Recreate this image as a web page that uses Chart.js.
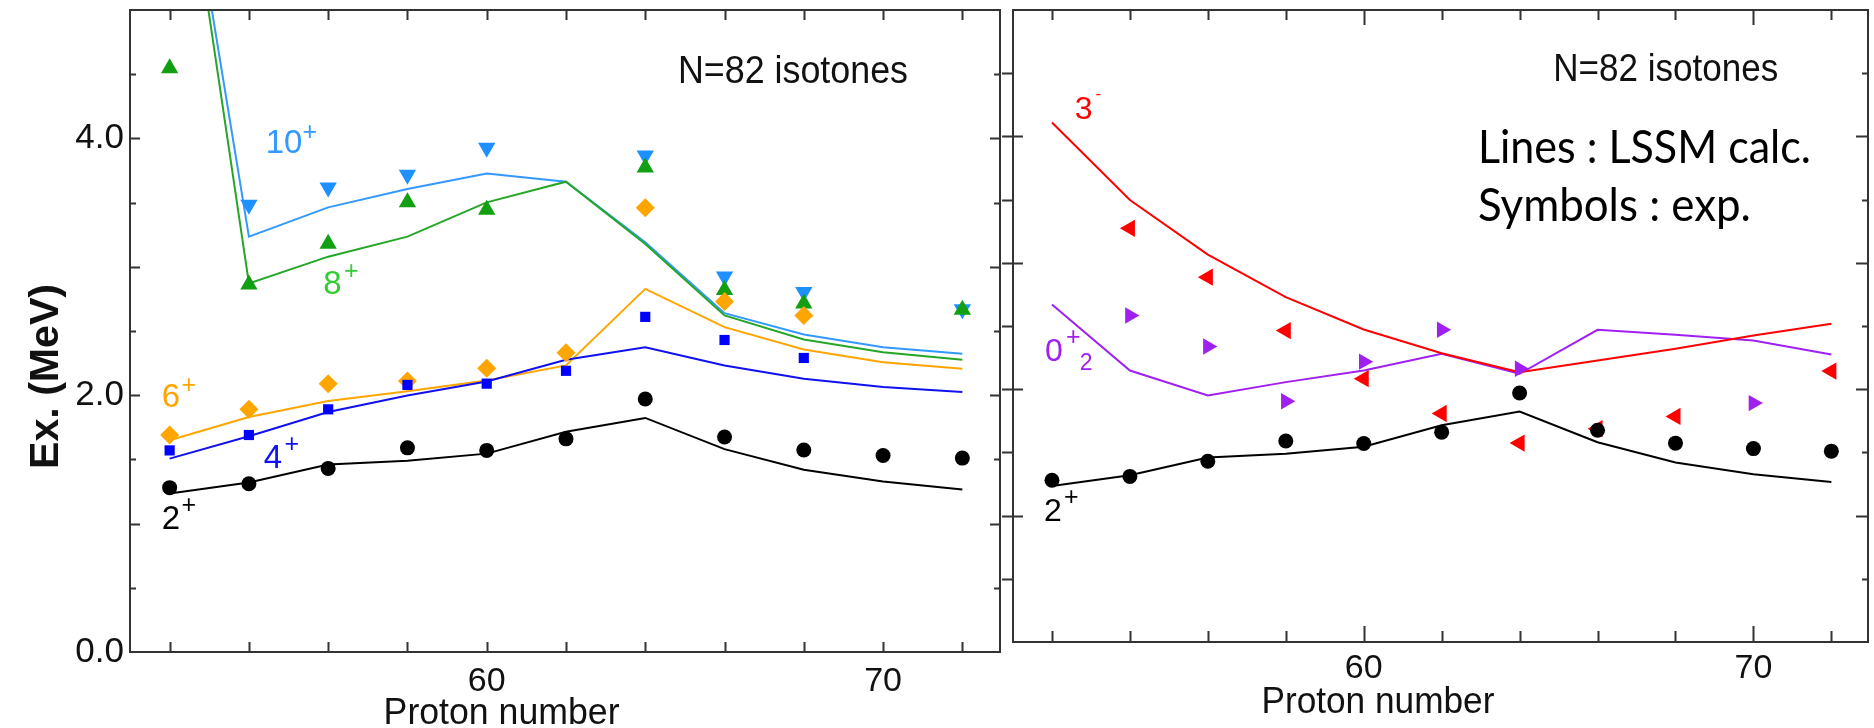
<!DOCTYPE html>
<html><head><meta charset="utf-8">
<script src="https://cdn.jsdelivr.net/npm/chart.js@4.4.1/dist/chart.umd.min.js"></script>
<style>
html,body{margin:0;padding:0;background:#fff;width:1874px;height:728px;overflow:hidden;position:relative}
canvas{position:absolute;top:0}
#left{left:0}
#right{left:1000px}
</style></head><body>
<canvas id="left" width="1010" height="728"></canvas>
<canvas id="right" width="878" height="728"></canvas>
<script>
// ---------- data ----------
const protonNumbers = [52, 54, 56, 58, 60, 62, 64, 66, 68, 70, 72];

const exp2plus  = [1.28, 1.31, 1.43, 1.59, 1.57, 1.66, 1.97, 1.675, 1.573, 1.53, 1.51];
const calc2plus = [1.235, 1.32, 1.46, 1.49, 1.545, 1.715, 1.823, 1.58, 1.42, 1.327, 1.265];

const exp4plus  = [1.57, 1.69, 1.89, 2.08, 2.09, 2.19, 2.61, 2.43, 2.29, null, null];
const calc4plus = [1.506, 1.68, 1.869, 1.998, 2.107, 2.276, 2.374, 2.232, 2.128, 2.063, 2.024];

const exp6plus  = [1.69, 1.89, 2.09, 2.11, 2.21, 2.33, 3.46, 2.73, 2.62, null, null];
const calc6plus = [1.649, 1.83, 1.954, 2.03, 2.115, 2.232, 2.828, 2.53, 2.356, 2.257, 2.206];

const exp8plus  = [4.547, 2.862, 3.18, 3.502, 3.445, null, 3.773, 2.819, 2.715, null, 2.665];
const calc8plus = [7.04, 2.87, 3.079, 3.235, 3.502, 3.663, 3.178, 2.621, 2.434, 2.335, 2.276];

const exp10plus  = [null, 3.484, 3.617, 3.717, 3.927, null, 3.867, 2.924, 2.804, null, 2.669];
const calc10plus = [7.01, 3.235, 3.463, 3.606, 3.727, 3.663, 3.191, 2.639, 2.473, 2.374, 2.323];

const exp3minus  = [null, 3.273, 2.886, 2.464, 2.083, 1.808, 1.574, 1.688, 1.785, null, 2.143];
const calc3minus = [4.110, 3.497, 3.065, 2.728, 2.472, 2.285, 2.135, 2.227, 2.320, 2.425, 2.517];

const exp0plus2  = [null, 2.583, 2.338, 1.904, 2.218, 2.470, 2.162, null, null, 1.890, null];
const calc0plus2 = [2.670, 2.148, 1.951, 2.056, 2.148, 2.280, 2.122, 2.470, 2.430, 2.385, 2.275];

const xTickValues  = [52, 54, 56, 58, 60, 62, 64, 66, 68, 70, 72];
const xLabelValues = [60, 70];
const yTickValues  = [0.5, 1, 1.5, 2, 2.5, 3, 3.5, 4, 4.5];
const yLabelValues = [0, 2, 4];

// ---------- styles ----------
const FONT = '"Liberation Sans", Arial, Helvetica, sans-serif';
const CAL = 'Lato, "Open Sans", sans-serif';
const COL = {
  c2: '#000000', c4: '#1010f0', c4m: '#0000ff', c6: '#ffa500',
  c8: '#26a626', c8m: '#12a012', c8t: '#33cc33',
  c10: '#3399ff', c10m: '#1e90ff',
  c3: '#ff0000', c0: '#a020f0'
};
Chart.defaults.font.family = FONT;
Chart.defaults.color = '#111';

const pts = arr => protonNumbers.map((z, i) => ({x: z, y: arr[i]}));
const lineDs = (label, arr, color) => ({
  type: 'line', label, data: pts(arr), borderColor: color, borderWidth: 2,
  pointRadius: 0, tension: 0, fill: false, order: 2, spanGaps: false
});
const markDs = (label, arr, color, style, radius, rotation) => ({
  type: 'line', label, data: pts(arr), showLine: false, pointStyle: style,
  pointRadius: radius, pointHoverRadius: radius, pointRotation: rotation || 0,
  pointBackgroundColor: color, pointBorderColor: color, pointBorderWidth: 0,
  backgroundColor: color, borderColor: color, order: 1
});

function drawText(ctx, t, px, py, o) {
  ctx.save();
  ctx.font = `${o.weight || 'normal'} ${o.size}px ${o.family || FONT}`;
  ctx.fillStyle = o.color || '#000';
  ctx.textBaseline = 'alphabetic';
  ctx.textAlign = o.align || 'left';
  const w = ctx.measureText(t).width;
  const sx = o.width ? o.width / w : 1;
  ctx.translate(px, py);
  if (o.rotate) ctx.rotate(o.rotate);
  ctx.scale(sx, 1);
  ctx.fillText(t, 0, 0);
  ctx.restore();
}

function makeFramePlugin(cfg) {
  return {
    id: 'frameTicks',
    afterDraw(chart) {
      const {ctx, chartArea: a, scales: {x, y}} = chart;
      ctx.save();
      ctx.strokeStyle = '#333';
      ctx.lineWidth = 2;
      ctx.strokeRect(a.left, a.top, a.right - a.left, a.bottom - a.top);
      ctx.beginPath();
      for (const v of xTickValues) {
        const px = Math.round(x.getPixelForValue(v)) + 0.5;
        const major = xLabelValues.includes(v);
        const lb = major ? cfg.xMajorBottom : cfg.xBottom;
        const lt = major ? cfg.xMajorTop : cfg.xTop;
        ctx.moveTo(px, a.bottom); ctx.lineTo(px, a.bottom - lb);
        ctx.moveTo(px, a.top); ctx.lineTo(px, a.top + lt);
      }
      for (const v of yTickValues) {
        const py = Math.round(y.getPixelForValue(v)) + 0.5;
        const isInt = Number.isInteger(v);
        const li = isInt ? cfg.yInt : cfg.yHalf;
        const ri = isInt ? cfg.yIntR : cfg.yHalfR;
        if (li > 0) { ctx.moveTo(a.left, py); ctx.lineTo(a.left + li, py); }
        if (cfg.yOut) { ctx.moveTo(a.left, py); ctx.lineTo(a.left - cfg.yOut, py); }
        if (ri > 0) { ctx.moveTo(a.right, py); ctx.lineTo(a.right - ri, py); }
      }
      ctx.stroke();
      ctx.restore();
    }
  };
}

function makeAnnotPlugin(items) {
  return {
    id: 'annot',
    afterDraw(chart) {
      const {ctx, scales: {x, y}} = chart;
      for (const a of items) drawText(ctx, a.text, x.getPixelForValue(a.z), y.getPixelForValue(a.v), a);
    }
  };
}

// ---------- annotations (positions in data units) ----------
const leftAnnotations = [
  {text: '10', z: 54.425, v: 3.888, size: 33, color: COL.c10},
  {text: '+',  z: 55.35,  v: 3.985, size: 25, color: COL.c10},
  {text: '8',  z: 55.875, v: 2.792, size: 33, color: COL.c8t},
  {text: '+',  z: 56.4,   v: 2.905, size: 25, color: COL.c8t},
  {text: '6',  z: 51.8,   v: 1.905, size: 33, color: COL.c6},
  {text: '+',  z: 52.3,   v: 2.015, size: 25, color: COL.c6},
  {text: '4',  z: 54.375, v: 1.431, size: 33, color: COL.c4},
  {text: '+',  z: 54.9,   v: 1.555, size: 25, color: COL.c4},
  {text: '2',  z: 51.8,   v: 0.956, size: 33, color: '#000'},
  {text: '+',  z: 52.3,   v: 1.082, size: 25, color: '#000'},
  {text: 'N=82 isotones', z: 64.825, v: 4.432, size: 39, width: 230, color: '#111'},
  {text: 'Proton number', z: 60.375, v: -0.56, size: 37, width: 236, align: 'center', color: '#111'},
  {text: 'Ex. (MeV)', z: 49.175, v: 2.146, size: 41, width: 185, align: 'center', rotate: -Math.PI / 2, color: '#111', weight: 'bold'}
];
const rightAnnotations = [
  {text: '3', z: 52.583, v: 4.139, size: 32, color: COL.c3},
  {text: '-', z: 53.117, v: 4.295, size: 17, color: COL.c3},
  {text: '0', z: 51.82,  v: 2.227, size: 32, color: COL.c0},
  {text: '+', z: 52.36,  v: 2.35,  size: 25, color: COL.c0},
  {text: '2', z: 52.713, v: 2.148, size: 23, color: COL.c0},
  {text: '2', z: 51.795, v: 0.956, size: 32, color: '#000'},
  {text: '+', z: 52.31,  v: 1.083, size: 25, color: '#000'},
  {text: 'N=82 isotones', z: 64.865, v: 4.439, size: 38, width: 225, color: '#111'},
  {text: 'Lines : LSSM calc.', z: 62.93, v: 3.791, size: 46, width: 333, family: CAL, color: '#000'},
  {text: 'Symbols : exp.', z: 62.93, v: 3.333, size: 46, width: 273, family: CAL, color: '#000'},
  {text: 'Proton number', z: 60.364, v: -0.561, size: 36, width: 233, align: 'center', color: '#111'}
];

function baseOptions(p) {
  return {
    responsive: false, animation: false, devicePixelRatio: 1,
    layout: {padding: {top: 9, right: p.padRight, left: 0, bottom: 0}},
    plugins: {legend: {display: false}, tooltip: {enabled: false}, title: {display: false}},
    scales: {
      x: {
        type: 'linear', min: 51, max: p.xMax,
        grid: {display: false, drawTicks: false}, border: {display: false},
        afterBuildTicks: s => { s.ticks = xLabelValues.map(v => ({value: v})); },
        afterFit: s => { s.height = p.xHeight; s.paddingLeft = 0; s.paddingRight = 0; },
        ticks: {font: {size: 34}, color: '#111', padding: p.xPad, autoSkip: false, maxRotation: 0}
      },
      y: {
        type: 'linear', min: 0, max: 5,
        grid: {display: false, drawTicks: false}, border: {display: false},
        afterBuildTicks: s => { s.ticks = yLabelValues.map(v => ({value: v})); },
        afterFit: s => { s.width = p.yWidth; s.paddingTop = 0; s.paddingBottom = 0; },
        ticks: {display: p.yLabels, font: {size: 35}, color: '#111', padding: 6, autoSkip: false,
                callback: v => Number(v).toFixed(1)}
      }
    }
  };
}

new Chart(document.getElementById('left'), {
  type: 'line',
  data: {datasets: [
    lineDs('2+ calc', calc2plus, COL.c2),
    lineDs('4+ calc', calc4plus, COL.c4),
    lineDs('6+ calc', calc6plus, COL.c6),
    lineDs('8+ calc', calc8plus, COL.c8),
    lineDs('10+ calc', calc10plus, COL.c10),
    markDs('2+ exp', exp2plus, COL.c2, 'circle', 7.5),
    markDs('4+ exp', exp4plus, COL.c4m, 'rect', 7.2),
    markDs('6+ exp', exp6plus, COL.c6, 'rectRot', 9.5),
    markDs('8+ exp', exp8plus, COL.c8m, 'triangle', 10, 0),
    markDs('10+ exp', exp10plus, COL.c10m, 'triangle', 10, 180)
  ]},
  options: baseOptions({padRight: 2, xMax: 72.95, xHeight: 76, yWidth: 130, xPad: 9, yLabels: true}),
  plugins: [
    makeFramePlugin({xBottom: 10, xMajorBottom: 10, xTop: 10, xMajorTop: 10, yInt: 10, yHalf: 6, yIntR: 10, yHalfR: 6, yOut: 0}),
    makeAnnotPlugin(leftAnnotations)
  ]
});

new Chart(document.getElementById('right'), {
  type: 'line',
  data: {datasets: [
    lineDs('2+ calc', calc2plus, COL.c2),
    lineDs('3- calc', calc3minus, COL.c3),
    lineDs('0+2 calc', calc0plus2, COL.c0),
    markDs('2+ exp', exp2plus, COL.c2, 'circle', 7.5),
    markDs('3- exp', exp3minus, COL.c3, 'triangle', 10, -90),
    markDs('0+2 exp', exp0plus2, COL.c0, 'triangle', 9.5, 90)
  ]},
  options: baseOptions({padRight: 2, xMax: 72.94, xHeight: 86, yWidth: 13, xPad: 6, yLabels: false}),
  plugins: [
    makeFramePlugin({xBottom: 11, xMajorBottom: 16, xTop: 10, xMajorTop: 15, yInt: 10, yHalf: 0, yIntR: 12, yHalfR: 6, yOut: 11}),
    makeAnnotPlugin(rightAnnotations)
  ]
});
</script>
</body></html>
